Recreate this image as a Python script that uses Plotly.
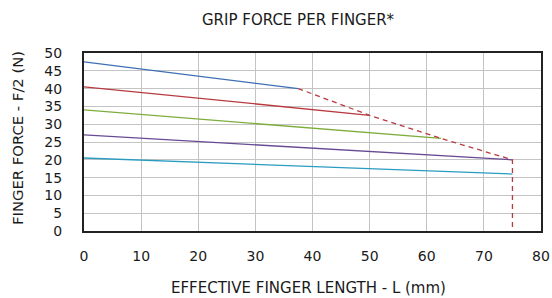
import plotly.graph_objects as go

# Data
x_start = [0, 0, 0, 0, 0]
x_end = [37.5, 50, 62.5, 75, 75]
f_start = [47.5, 40.5, 34, 27, 20.5]
f_end = [40, 32.5, 26, 20, 16]
colors = ["#3d6eb4", "#b83a3e", "#7ead3c", "#684a94", "#2a9cbf"]

limit_x = [37.5, 50, 62.5, 75, 75]
limit_y = [40, 32.5, 26, 20, 0]

x_ticks = [0, 10, 20, 30, 40, 50, 60, 70, 80]
y_ticks = [0, 5, 10, 15, 20, 25, 30, 35, 40, 45, 50]

FONT = "DejaVu Sans"
TXT = "#1a1a1a"

W, H = 552, 298
L, R, T, B = 84, 11, 53, 67

fig = go.Figure()
for xs, xe, ys, ye, c in zip(x_start, x_end, f_start, f_end, colors):
    fig.add_trace(go.Scatter(x=[xs, xe], y=[ys, ye], mode="lines",
                             line=dict(color=c, width=1.3), showlegend=False,
                             hoverinfo="skip"))
fig.add_trace(go.Scatter(x=limit_x, y=limit_y, mode="lines",
                         line=dict(color="#b83a3e", width=1.3, dash="5px,4px"),
                         showlegend=False, hoverinfo="skip"))

def px_x(p):
    return (p - L) / (W - L - R)

def px_y(p):
    return (H - B - p) / (H - T - B)

fig.update_layout(
    width=W, height=H,
    margin=dict(l=L, r=R, t=T, b=B, autoexpand=False),
    paper_bgcolor="white", plot_bgcolor="white",
    font=dict(family=FONT, color=TXT),
    xaxis=dict(range=[0, 80], tickvals=x_ticks, showgrid=True,
               gridcolor="#c4c4c4", gridwidth=1.2, zeroline=False,
               showline=True, linecolor="#222", linewidth=2, mirror=True,
               ticks="", tickfont=dict(size=14, family=FONT, color=TXT),
               ticklabelstandoff=11, automargin=False),
    yaxis=dict(range=[0, 50], tickvals=y_ticks, showgrid=True,
               gridcolor="#c4c4c4", gridwidth=1.2, zeroline=False,
               showline=True, linecolor="#222", linewidth=2, mirror=True,
               ticks="", tickfont=dict(size=14, family=FONT, color=TXT),
               ticklabelstandoff=17, automargin=False),
    annotations=[
        dict(text="GRIP FORCE PER FINGER*", xref="paper", yref="paper",
             x=px_x(298), y=px_y(20), xanchor="center", yanchor="middle",
             showarrow=False, font=dict(size=15, family=FONT, color=TXT)),
        dict(text="EFFECTIVE FINGER LENGTH - L (mm)", xref="paper", yref="paper",
             x=px_x(308), y=px_y(288), xanchor="center", yanchor="middle",
             showarrow=False, font=dict(size=15, family=FONT, color=TXT)),
        dict(text="FINGER FORCE - F/2 (N)", xref="paper", yref="paper",
             x=px_x(17), y=px_y(138), xanchor="center", yanchor="middle",
             textangle=-90,
             showarrow=False, font=dict(size=14.8, family=FONT, color=TXT)),
    ],
)

fig.write_html("out.html", config={"displayModeBar": False},
               post_script="document.body.style.margin='0';document.body.style.overflow='hidden';")
